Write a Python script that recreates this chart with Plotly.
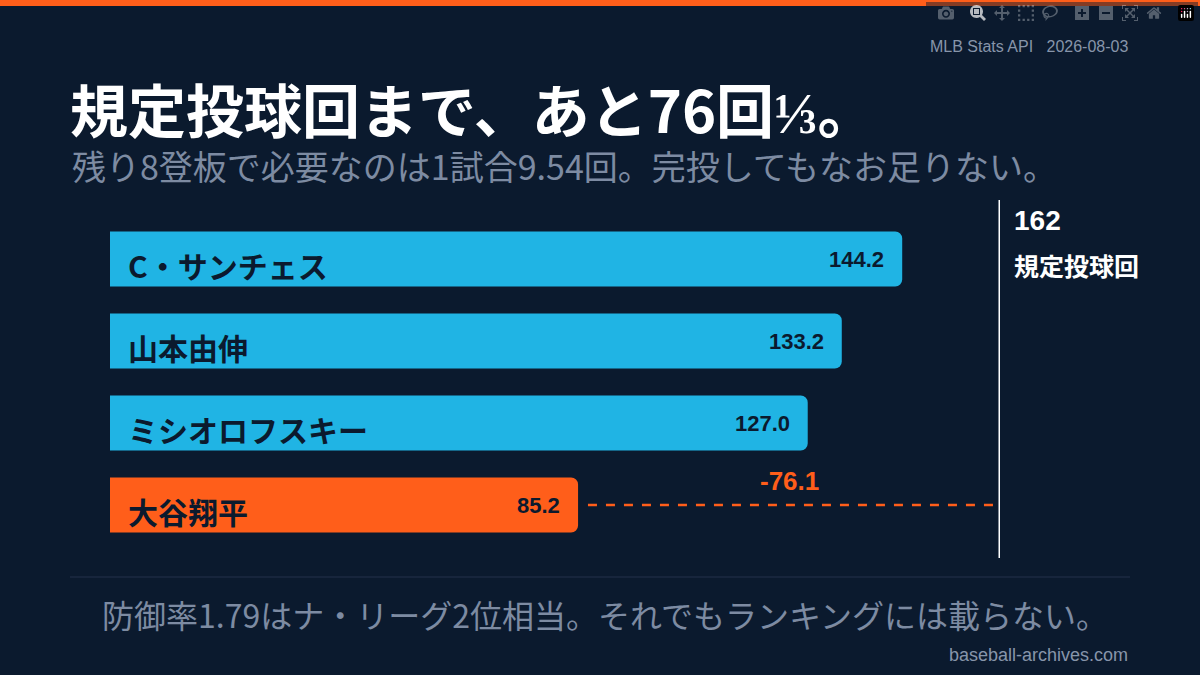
import plotly.graph_objects as go

# data
pitchers = ["C・サンチェス", "山本由伸", "ミシオロフスキー", "大谷翔平"]
innings = [144.2, 133.2, 127.0, 85.2]
innings_text = ["144.2", "133.2", "127.0", "85.2"]
qualify = 162
gap_text = "-76.1"
colors = ["#20b4e4", "#20b4e4", "#20b4e4", "#ff5e1a"]

BG = "#0b1a2e"
ORANGE = "#ff5e1a"
GREY = "#8795aa"
JP = "Noto Sans CJK JP"

W, H = 1200, 675
def px(x):  # paper x from pixel
    return x / W
def py(y):  # paper y from pixel (top origin)
    return 1 - y / H

fig = go.Figure()
fig.add_trace(go.Bar(
    x=innings, y=pitchers, orientation="h",
    marker=dict(color=colors, line=dict(width=0)),
    width=0.67, hoverinfo="skip",
))

# gap line for the last pitcher
last = pitchers[-1]
fig.add_trace(go.Scatter(
    x=[innings[-1] + 1.8, qualify], y=[last, last], mode="lines",
    line=dict(color=ORANGE, width=2.5, dash="dash"), hoverinfo="skip",
))

anns = []
for name, v, t in zip(pitchers, innings, innings_text):
    anns.append(dict(x=0, y=name, xref="x", yref="y", text=f"<b>{name}</b>",
                     xanchor="left", yanchor="middle", xshift=16, yshift=-6, showarrow=False,
                     font=dict(family=JP, size=30, color=BG)))
    anns.append(dict(x=v, y=name, xref="x", yref="y", text=f"<b>{t}</b>",
                     xanchor="right", yanchor="middle", xshift=-16, showarrow=False,
                     font=dict(family="Liberation Sans", size=22, color=BG)))
anns.append(dict(x=(innings[-1] + qualify) / 2, y=last, xref="x", yref="y",
                 text=f"<b>{gap_text}</b>", yanchor="middle", yshift=24, showarrow=False,
                 font=dict(family="Liberation Sans", size=26, color=ORANGE)))
anns.append(dict(x=qualify, y=py(220), xref="x", yref="paper", yanchor="middle",
                 xanchor="left", xshift=12, text=f"<b>{qualify}</b>", showarrow=False,
                 font=dict(family="Liberation Sans", size=28, color="white")))
anns.append(dict(x=qualify, y=py(265), xref="x", yref="paper", xanchor="left",
                 yanchor="middle", xshift=12, text="<b>規定投球回</b>", showarrow=False,
                 font=dict(family=JP, size=25, color="white")))

# header / footer texts
anns += [
    dict(x=px(1130), y=py(46), xref="paper", yref="paper", xanchor="right", yanchor="middle",
         text="MLB Stats API   2026-08-03", showarrow=False,
         font=dict(family="Liberation Sans", size=16, color=GREY)),
    dict(x=px(68), y=py(108), xref="paper", yref="paper", xanchor="left", yanchor="middle",
         text="<b>規定投球回まで、あと76回⅓。</b>", showarrow=False,
         font=dict(family=JP, size=58, color="white")),
    dict(x=px(70), y=py(165), xref="paper", yref="paper", xanchor="left", yanchor="middle",
         text="残り8登板で必要なのは1試合9.54回。完投してもなお足りない。", showarrow=False,
         font=dict(family=JP, size=34, color="#7d8ba2")),
    dict(x=px(605), y=py(614), xref="paper", yref="paper", xanchor="center", yanchor="middle",
         text="防御率1.79はナ・リーグ2位相当。それでもランキングには載らない。", showarrow=False,
         font=dict(family=JP, size=32, color="#7d8ba2")),
    dict(x=px(1130), y=py(655), xref="paper", yref="paper", xanchor="right", yanchor="middle",
         text="baseball-archives.com", showarrow=False,
         font=dict(family="Liberation Sans", size=18, color=GREY)),
]

shapes = [
    dict(type="rect", xref="paper", yref="paper", x0=0, x1=1, y0=py(6), y1=1,
         fillcolor=ORANGE, line=dict(width=0)),
    dict(type="line", xref="x", yref="paper", x0=qualify, x1=qualify,
         y0=py(200), y1=py(558), line=dict(color="white", width=3)),
    dict(type="line", xref="paper", yref="paper", x0=px(70), x1=px(1130),
         y0=py(577), y1=py(577), line=dict(color="#24314a", width=1)),
]

fig.update_layout(
    width=W, height=H, paper_bgcolor=BG, plot_bgcolor=BG,
    margin=dict(l=0, r=0, t=0, b=0), showlegend=False,
    barcornerradius=7,
    xaxis=dict(domain=[px(110), px(1000)], range=[0, qualify], visible=False),
    yaxis=dict(domain=[0, 1], range=[(675 - 259) / 82, -259 / 82],
               visible=False, categoryorder="array", categoryarray=pitchers),
    annotations=anns, shapes=shapes,
)

fig.write_html("out.html", post_script="document.body.style.margin='0';document.body.style.background='%s';" % BG)
